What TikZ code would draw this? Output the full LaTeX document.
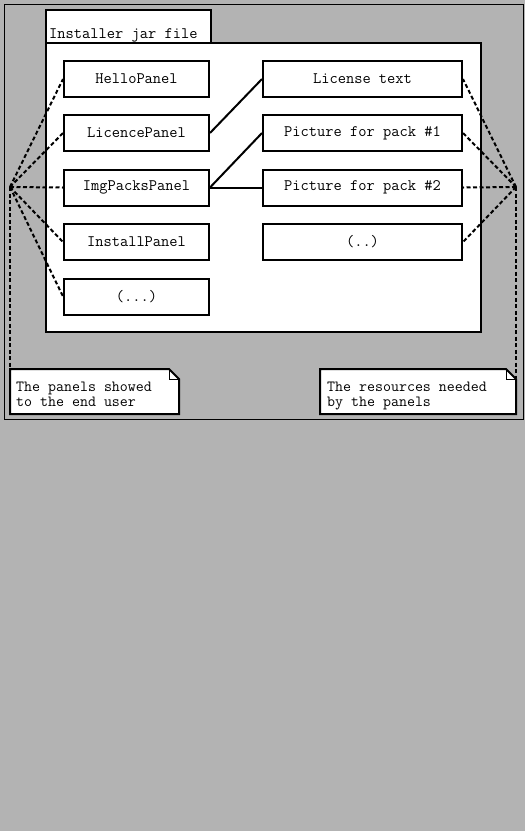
\documentclass[tikz,border=0pt]{standalone}
\usepackage{fontspec}
\definecolor{bggray}{RGB}{179,179,179}
\begin{document}
\begin{tikzpicture}[x=1pt,y=-1pt,
  mono/.style={font=\ttfamily\fontsize{16}{14}\selectfont},
  notetext/.style={font=\ttfamily\fontsize{15.5}{15}\selectfont,anchor=base west,inner sep=0pt,align=left},
  panel/.style={draw=black,fill=white,line width=2pt,minimum height=36pt,inner sep=0pt,mono},
  lpanel/.style={panel,minimum width=145pt},
  rpanel/.style={panel,minimum width=199pt},
  link/.style={line width=2pt},
  dlink/.style={line width=2pt,dash pattern=on 4pt off 2.5pt},
  notebox/.style={draw=black,fill=white,line width=2pt}]
\useasboundingbox (0,0) rectangle (525,831);
\fill[bggray] (0,0) rectangle (525,831);
\draw[black,line width=0.8pt] (4,4) rectangle (523,419);
% tab and main box
\draw[notebox] (46,10) rectangle (211,43);
\node[mono,anchor=base west,inner sep=0pt] (tabtxt) at (49,38) {Installer jar file};
\draw[notebox] (46,43) rectangle (481,332);
% left panels
\node[lpanel] (hello) at (136.5,79) {HelloPanel};
\node[lpanel] (lic) at (136.5,133) {LicencePanel};
\node[lpanel] (img) at (136.5,187.5) {ImgPacksPanel};
\node[lpanel] (inst) at (136.5,242) {InstallPanel};
\node[lpanel] (ldots) at (136.5,296.5) {(...)};
% right resources
\node[rpanel] (ltext) at (362.5,79) {License text};
\node[rpanel] (pic1) at (362.5,133) {Picture for pack \#1};
\node[rpanel] (pic2) at (362.5,187.5) {Picture for pack \#2};
\node[rpanel] (rdots) at (362.5,242) {(..)};
% solid links
\draw[link] (lic.east) -- (ltext.west);
\draw[link] (img.east) -- (pic1.west);
\draw[link] (img.east) -- (pic2.west);
% hubs
\coordinate (lh) at (10,187);
\coordinate (rh) at (516,187);
\coordinate (lnote) at (10,369);
\coordinate (rnote) at (516,378);
\foreach \n in {hello,lic,img,inst,ldots} \draw[dlink] (lh) -- (\n.west);
\foreach \n in {ltext,pic1,pic2,rdots} \draw[dlink] (rh) -- (\n.east);
\draw[dlink] (lh) -- (lnote);
\draw[dlink] (rh) -- (rnote);
% notes
\draw[notebox,line join=miter] (10,369) -- (169,369) -- (179,379) -- (179,414) -- (10,414) -- cycle;
\draw[black,line width=1pt] (169,369) -- (169,379) -- (179,379);
\node[notetext] (lnotetxt) at (16,406) {The panels showed\\to the end user};
\draw[notebox,line join=miter] (320,369) -- (506,369) -- (516,379) -- (516,414) -- (320,414) -- cycle;
\draw[black,line width=1pt] (506,369) -- (506,379) -- (516,379);
\node[notetext] (rnotetxt) at (327,406) {The resources needed\\by the panels};
\end{tikzpicture}
\end{document}
